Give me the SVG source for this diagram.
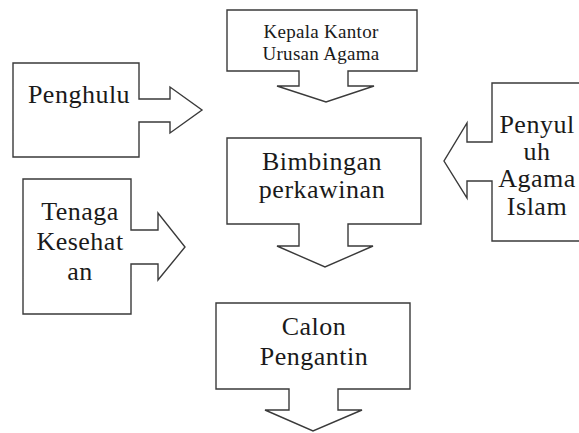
<svg xmlns="http://www.w3.org/2000/svg" width="579" height="433" viewBox="0 0 579 433">
<style>
.shape{fill:#ffffff;stroke:#3a3a3a;stroke-width:1.4;stroke-linejoin:miter}
.t{font-family:"Liberation Serif","Times New Roman",serif;font-size:26px;letter-spacing:0.5px;fill:#1a1a1a;text-anchor:middle}
.ts{font-family:"Liberation Serif","Times New Roman",serif;font-size:19px;letter-spacing:0.3px;fill:#1a1a1a;text-anchor:middle}
</style>
<rect width="579" height="433" fill="#ffffff"/>
<g id="connectors"></g>
<g id="kepala">
<path class="shape" d="M227,10 L417,10 L417,71 L348,71 L348,86 L374,86 L326,102 L277,86 L299,86 L299,71 L227,71 Z"/>
<text class="ts" x="321" y="38">Kepala Kantor</text>
<text class="ts" x="321" y="60">Urusan Agama</text>
</g>
<g id="penghulu">
<path class="shape" d="M13,63 L139,63 L139,99 L170,99 L170,87 L202,110 L170,133 L170,122 L139,122 L139,157 L13,157 Z"/>
<text class="t" x="79" y="103">Penghulu</text>
</g>
<g id="penyuluh">
<path class="shape" d="M585,83 L492,83 L492,142 L467,142 L467,123 L444,161 L467,198 L467,181 L492,181 L492,241 L585,241 Z"/>
<text class="t" x="537" y="133">Penyul</text>
<text class="t" x="537" y="160">uh</text>
<text class="t" x="537" y="187">Agama</text>
<text class="t" x="537" y="215">Islam</text>
</g>
<g id="bimbingan">
<path class="shape" d="M227,138 L421,138 L421,224 L348,224 L348,246 L373,246 L325,267 L277,246 L299,246 L299,224 L227,224 Z"/>
<text class="t" x="322" y="170">Bimbingan</text>
<text class="t" x="322" y="198">perkawinan</text>
</g>
<g id="tenaga">
<path class="shape" d="M23,179 L131,179 L131,230 L158,230 L158,213 L185,247 L158,280 L158,264 L131,264 L131,314 L23,314 Z"/>
<text class="t" x="80" y="220">Tenaga</text>
<text class="t" x="80" y="250">Kesehat</text>
<text class="t" x="80" y="280">an</text>
</g>
<g id="calon">
<path class="shape" d="M216,303 L410,303 L410,389 L338,389 L338,410 L362,410 L313,431 L265,410 L289,410 L289,389 L216,389 Z"/>
<text class="t" x="314" y="335">Calon</text>
<text class="t" x="314" y="365">Pengantin</text>
</g>
</svg>
